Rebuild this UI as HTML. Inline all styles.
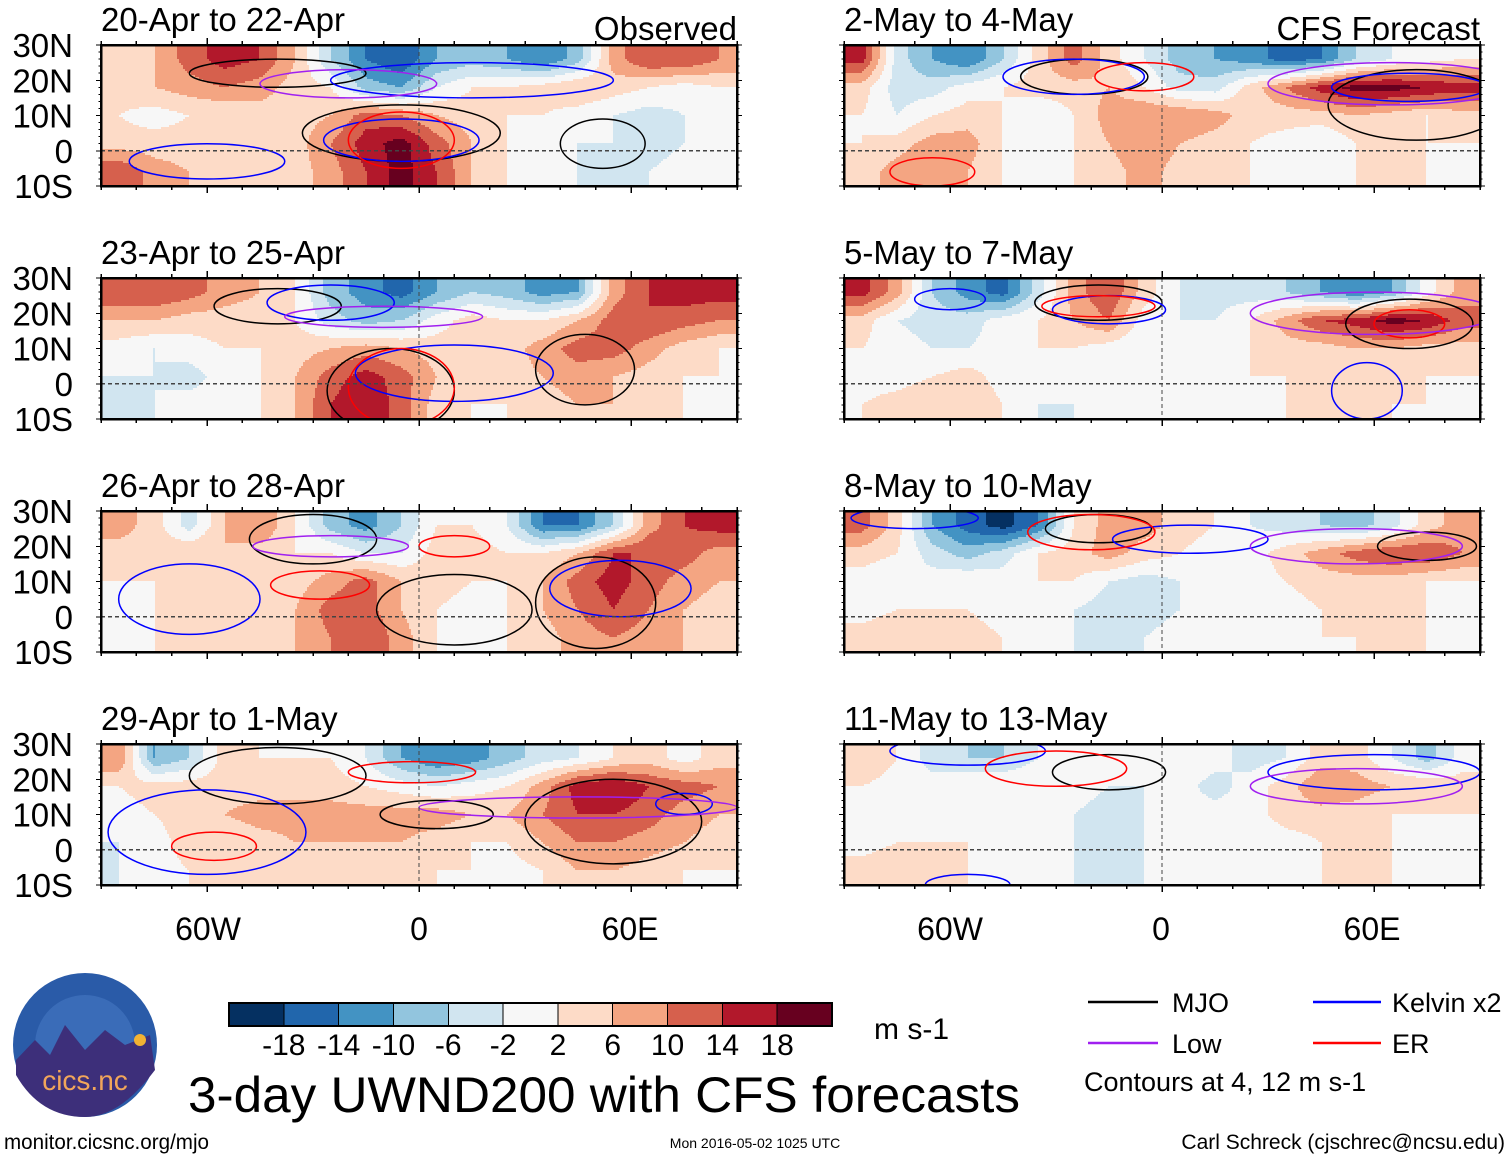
<!DOCTYPE html>
<html><head><meta charset="utf-8">
<style>
html,body{margin:0;padding:0;background:#fff;}
svg{display:block;font-family:"Liberation Sans",sans-serif;}
</style></head>
<body>
<svg id="fig" width="1510" height="1158" viewBox="0 0 1510 1158" xmlns="http://www.w3.org/2000/svg" shape-rendering="crispEdges">
<g id="panels"></g>

<g font-size="32" text-anchor="middle" fill="#000">
<text x="208" y="940">60W</text>
<text x="419" y="940">0</text>
<text x="630" y="940">60E</text>
</g>
<g font-size="32" text-anchor="middle" fill="#000">
<text x="950" y="940">60W</text>
<text x="1161" y="940">0</text>
<text x="1372" y="940">60E</text>
</g>

<g shape-rendering="auto">
<circle cx="85" cy="1045" r="72" fill="#2a5ba8"/>
<circle cx="85" cy="1045" r="50" fill="#3a6cb8"/>
<path d="M16,1060 L35,1040 L50,1055 L65,1025 L85,1050 L105,1030 L125,1045 L150,1035 L155,1070 Q120,1117 85,1117 Q40,1117 16,1075 Z" fill="#3d2f7a"/>
<circle cx="140" cy="1040" r="6" fill="#f2b233"/>
<text x="85" y="1090" font-size="28" fill="#f2a65a" text-anchor="middle">cics.nc</text>
</g>

<g id="colorbar"></g>
<text x="874" y="1039" font-size="30">m s-1</text>

<text x="188" y="1112" font-size="50" textLength="832" lengthAdjust="spacingAndGlyphs">3-day UWND200 with CFS forecasts</text>

<g font-size="27" shape-rendering="auto">
<g><line x1="1088" y1="1002" x2="1158" y2="1002" stroke="#000" stroke-width="2.5"/><text x="1172" y="1012">MJO</text></g>
<g><line x1="1313" y1="1002" x2="1381" y2="1002" stroke="#0000ff" stroke-width="2.5"/><text x="1392" y="1012">Kelvin x2</text></g>
<g><line x1="1088" y1="1043" x2="1158" y2="1043" stroke="#a020f0" stroke-width="2.5"/><text x="1172" y="1053">Low</text></g>
<g><line x1="1313" y1="1043" x2="1381" y2="1043" stroke="#ff0000" stroke-width="2.5"/><text x="1392" y="1053">ER</text></g>
<text x="1084" y="1091">Contours at 4, 12 m s-1</text>
</g>

<text x="4" y="1149" font-size="21" textLength="205" lengthAdjust="spacingAndGlyphs">monitor.cicsnc.org/mjo</text>
<text x="755" y="1148" font-size="14" text-anchor="middle">Mon 2016-05-02 1025 UTC</text>
<text x="1505" y="1149" font-size="21" text-anchor="end">Carl Schreck (cjschrec@ncsu.edu)</text>
</svg>

<script>
// ---- data ----
const lonCenters = [-85,-75,-65,-55,-45,-35,-25,-15,-5,5,15,25,35,45,55,65,75,85];
const latCenters = [26,18,10,2,-6];
const levels = [-18,-14,-10,-6,-2,2,6,10,14,18];
const colors = ["#053061","#2166ac","#4393c3","#92c5de","#d1e5f0","#f7f7f7","#fddbc7","#f4a582","#d6604d","#b2182b","#67001f"];
const titles = ["20-Apr to 22-Apr","23-Apr to 25-Apr","26-Apr to 28-Apr","29-Apr to 1-May","2-May to 4-May","5-May to 7-May","8-May to 10-May","11-May to 13-May"];

const p1 = [
 [4,6,12,16,14,6,-6,-14,-18,-10,-8,-10,-14,-8,8,14,14,10],
 [4,6,8,10,8,4,2,-8,-10,-2,2,2,4,6,4,2,0,2],
 [2,0,2,2,4,4,6,12,10,6,4,2,2,0,-2,-4,-2,0],
 [4,4,4,4,6,4,10,16,20,12,6,2,0,-2,-2,-4,-2,0],
 [14,8,6,4,4,4,8,14,20,14,6,2,0,-2,-2,-2,0,2]];
const p2 = [
 [14,14,12,8,6,2,-8,-12,-16,-10,-6,-8,-12,-10,8,14,16,16],
 [6,6,4,4,4,2,-4,-8,-6,0,4,2,2,6,12,14,12,10],
 [0,-2,0,2,2,4,6,8,6,4,4,4,8,12,12,8,4,2],
 [-2,-2,-4,0,2,6,12,16,12,6,4,4,6,8,6,4,2,2],
 [-2,-2,0,0,2,6,14,18,12,4,2,2,4,6,6,4,2,2]];
const p3 = [
 [8,4,-4,6,10,2,-8,-12,-6,2,2,-2,-14,-14,-6,8,14,16],
 [4,4,6,6,4,2,2,-2,-2,4,4,2,2,6,14,14,12,8],
 [2,2,2,4,4,4,8,12,6,4,2,2,6,12,16,12,8,6],
 [-2,2,4,4,4,6,12,12,6,2,0,2,6,10,14,10,6,4],
 [2,2,4,4,4,6,10,14,8,2,0,2,4,8,10,8,6,4]];
const p4 = [
 [10,-10,-6,4,2,2,2,-2,-10,-14,-12,-8,-4,-2,2,4,0,4],
 [2,4,4,4,4,4,4,2,0,-2,0,2,8,16,18,14,12,10],
 [0,2,4,6,8,8,8,8,8,8,6,6,10,14,14,12,8,6],
 [-2,0,4,2,4,6,6,6,6,4,2,2,6,10,10,8,6,4],
 [-2,0,2,4,6,6,4,6,4,2,2,0,2,6,6,4,2,2]];
const p5 = [
 [16,-4,-10,-14,-6,4,12,4,-2,-8,-10,-12,-16,-14,-6,-2,0,2],
 [4,-4,-4,0,2,4,4,6,2,-4,-4,4,10,16,20,20,18,16],
 [2,-2,2,4,2,-2,2,8,10,10,8,4,4,4,6,4,2,4],
 [2,4,8,8,2,-2,2,6,10,6,4,2,0,-2,2,4,2,2],
 [4,8,10,6,2,-2,2,4,8,4,4,2,0,0,2,4,2,2]];
const p6 = [
 [16,8,-6,-12,-16,-4,8,14,4,-2,-4,-4,-6,-10,-14,-10,0,8],
 [4,-2,-4,-4,0,2,6,10,0,-2,-2,2,8,14,16,20,18,12],
 [2,0,-2,-2,0,2,2,0,-2,-2,0,2,4,4,6,6,4,4],
 [0,0,2,4,0,0,-2,-2,0,0,2,2,2,4,4,4,2,2],
 [2,4,6,6,2,-2,-2,0,2,2,2,2,2,4,4,2,2,2]];
const p7 = [
 [12,4,-10,-16,-20,-14,2,8,8,4,2,-2,-4,-6,-8,-4,4,8],
 [4,2,-4,-8,-4,2,4,8,4,2,0,0,4,8,12,14,14,10],
 [0,-2,0,2,0,2,2,-2,-4,-2,-2,0,2,4,4,4,2,2],
 [0,2,2,2,0,0,-2,-4,-4,-2,0,0,0,2,4,2,2,2],
 [4,6,6,4,2,0,-2,-4,-2,0,0,0,2,2,2,4,2,2]];
const p8 = [
 [6,2,-4,-6,-6,-2,0,0,-2,2,0,-4,-2,4,4,-2,-8,0],
 [2,0,0,2,2,2,0,-2,-2,0,-4,0,4,10,8,6,6,4],
 [0,2,2,2,0,0,-2,-4,-2,0,0,0,4,4,4,2,2,2],
 [0,2,2,2,0,0,-2,-4,-2,0,0,-2,0,2,2,2,2,2],
 [4,6,4,2,0,0,-2,-2,-2,0,0,0,0,2,4,2,2,2]];
const fields = [p1,p2,p3,p4,p5,p6,p7,p8];

// contour ellipses: [lonCenter, latCenter, lonRadius, latRadius, type]
const contours = [
 [[-40,22,25,4,"mjo"],[-5,5,28,8,"mjo"],[52,2,12,7,"mjo"],[-5,3,22,6,"kelvin"],[-60,-3,22,5,"kelvin"],[15,20,40,5,"kelvin"],[-20,19,25,4,"low"],[-5,3,15,8,"er"]],
 [[-40,22,18,5,"mjo"],[-8,-2,18,12,"mjo"],[47,4,14,10,"mjo"],[10,3,28,8,"kelvin"],[-25,23,18,5,"kelvin"],[-10,19,28,3,"low"],[-5,-1,15,11,"er"]],
 [[-30,22,18,7,"mjo"],[10,2,22,10,"mjo"],[50,4,17,13,"mjo"],[-65,5,20,10,"kelvin"],[57,8,20,8,"kelvin"],[-25,20,22,3,"low"],[-28,9,14,4,"er"],[10,20,10,3,"er"]],
 [[-40,21,25,8,"mjo"],[5,10,16,4,"mjo"],[55,8,25,12,"mjo"],[-60,5,28,12,"kelvin"],[75,13,8,3,"kelvin"],[-2,22,18,3,"er"],[-58,1,12,4,"er"],[45,12,45,3,"low"]],
 [[-22,21,18,5,"mjo"],[72,13,25,10,"mjo"],[-25,21,20,5,"kelvin"],[70,18,22,4,"kelvin"],[-5,21,14,4,"er"],[-65,-6,12,4,"er"],[65,19,35,6,"low"]],
 [[-18,23,18,5,"mjo"],[70,17,18,7,"mjo"],[-15,21,16,4,"kelvin"],[-60,24,10,3,"kelvin"],[58,-2,10,8,"kelvin"],[-18,22,16,3,"er"],[70,17,10,4,"er"],[60,20,35,6,"low"]],
 [[-18,25,15,4,"mjo"],[75,20,14,4,"mjo"],[8,22,22,4,"kelvin"],[-70,28,18,3,"kelvin"],[-20,24,18,5,"er"],[55,20,30,5,"low"]],
 [[-15,22,16,5,"mjo"],[-55,28,22,4,"kelvin"],[60,22,30,5,"kelvin"],[-30,23,20,5,"er"],[55,18,30,5,"low"],[-55,-10,12,3,"kelvin"]]];
const ctypeColor = {mjo:"#000000",kelvin:"#0000ff",low:"#a020f0",er:"#ff0000"};

// ---- layout ----
const NS="http://www.w3.org/2000/svg";
const colX=[101,844], W=636;
const rowY=[45,278,511,744], H=141;
function colorIdx(v){let i=0;while(i<levels.length&&v>levels[i])i++;return i;}
function mk(tag,attrs,parent){const e=document.createElementNS(NS,tag);for(const k in attrs)e.setAttribute(k,attrs[k]);parent.appendChild(e);return e;}
function sample(field,lon,lat){
  // bilinear interpolation in cell-center grid (clamped)
  let fx=(lon-lonCenters[0])/10, fy=(latCenters[0]-lat)/8;
  fx=Math.max(0,Math.min(lonCenters.length-1,fx)); fy=Math.max(0,Math.min(latCenters.length-1,fy));
  const i0=Math.min(Math.floor(fx),lonCenters.length-2), j0=Math.min(Math.floor(fy),latCenters.length-2);
  const tx=fx-i0, ty=fy-j0;
  // smoothstep-free bilinear
  const a=field[j0][i0], b=field[j0][i0+1], c=field[j0+1][i0], d=field[j0+1][i0+1];
  return (a*(1-tx)+b*tx)*(1-ty)+(c*(1-tx)+d*tx)*ty;
}

const root=document.getElementById('panels');
const DX=2, DY=2;
fields.forEach((field,pi)=>{
  const col=pi<4?0:1, row=pi%4;
  const x0=colX[col], y0=rowY[row];
  const xs=lon=>x0+(lon+90)/180*W;
  const ys=lat=>y0+(30-lat)/40*H;
  const g=mk('g',{},root);
  
  
  const cid='clip'+pi;
  const cp=mk('clipPath',{id:cid},g);
  mk('rect',{x:x0,y:y0,width:W,height:H},cp);
  const clipG=mk('g',{'clip-path':'url(#'+cid+')'},g);
  const heat=mk('g',{},clipG);
  
  
  for(let py=0;py<H;py+=DY){
    const lat=30-(py+DY/2)/H*40;
    let runStart=0, runIdx=-1;
    for(let px=0;px<=W;px+=DX){
      let idx=-2;
      if(px<W){const lon=-90+(px+DX/2)/W*180; idx=colorIdx(sample(field,lon,lat));}
      if(idx!==runIdx){
        if(runIdx>=0){
          const r=mk('rect',{x:x0+runStart,y:y0+py,width:px-runStart,height:DY,fill:colors[runIdx]},heat);
          
          
        }
        runStart=px; runIdx=idx;
      }
    }
  }
  const cg=mk('g',{'shape-rendering':'auto'},clipG);
  contours[pi].forEach(c=>{
    const e=mk('ellipse',{cx:xs(c[0]),cy:ys(c[1]),rx:c[2]/180*W,ry:c[3]/40*H,fill:'none',stroke:ctypeColor[c[4]],'stroke-width':1.5},cg);
    
    
  });
  mk('line',{x1:x0,y1:ys(0),x2:x0+W,y2:ys(0),stroke:'#444','stroke-width':1.2,'stroke-dasharray':'4,3'},clipG);
  mk('line',{x1:xs(0),y1:y0,x2:xs(0),y2:y0+H,stroke:'#444','stroke-width':1.2,'stroke-dasharray':'4,3'},clipG);
  const fr=mk('rect',{x:x0,y:y0,width:W,height:H,fill:'none',stroke:'#000','stroke-width':2.5},g);
  
  
  for(let lon=-90;lon<=90;lon+=10){
    const len=(lon%60===0)?7:4;
    mk('line',{x1:xs(lon),y1:y0,x2:xs(lon),y2:y0-len,stroke:'#000','stroke-width':1.5},g);
    mk('line',{x1:xs(lon),y1:y0+H,x2:xs(lon),y2:y0+H+len,stroke:'#000','stroke-width':1.5},g);
  }
  for(let lat=-10;lat<=30;lat+=2){
    const len=(lat%10===0)?5:2.5;
    mk('line',{x1:x0,y1:ys(lat),x2:x0-len,y2:ys(lat),stroke:'#000','stroke-width':1},g);
    mk('line',{x1:x0+W,y1:ys(lat),x2:x0+W+len,y2:ys(lat),stroke:'#000','stroke-width':1},g);
  }
  const t=mk('text',{x:x0,y:y0-14,'font-size':33},g);
  t.textContent=titles[pi];
  
  
  if(row===0){
    const s=mk('text',{x:x0+W,y:y0-5,'font-size':33,'text-anchor':'end'},g);
    s.textContent=col===0?'Observed':'CFS Forecast';
    
    
  }
  if(col===0){
    ['30N','20N','10N','0','10S'].forEach((lab,li)=>{
      const yl=mk('text',{x:73,y:ys(30-10*li)+12,'font-size':33,'text-anchor':'end'},g);
      yl.textContent=lab;
      
      
    });
  }
});

// colorbar
const cb=document.getElementById('colorbar');
const cbx=229, cbw=603, cby=1003, cbh=23, bw=cbw/colors.length;
colors.forEach((c,i)=>{
  const r=mk('rect',{x:cbx+i*bw,y:cby,width:bw,height:cbh,fill:c,stroke:'#000','stroke-width':1},cb);
  
  
});
mk('rect',{x:cbx,y:cby,width:cbw,height:cbh,fill:'none',stroke:'#000','stroke-width':2},cb);
levels.forEach((lv,i)=>{
  const t=mk('text',{x:cbx+(i+1)*bw,y:1055,'font-size':30,'text-anchor':'middle'},cb);
  t.textContent=lv;
  
  
});
</script>
</body></html>
